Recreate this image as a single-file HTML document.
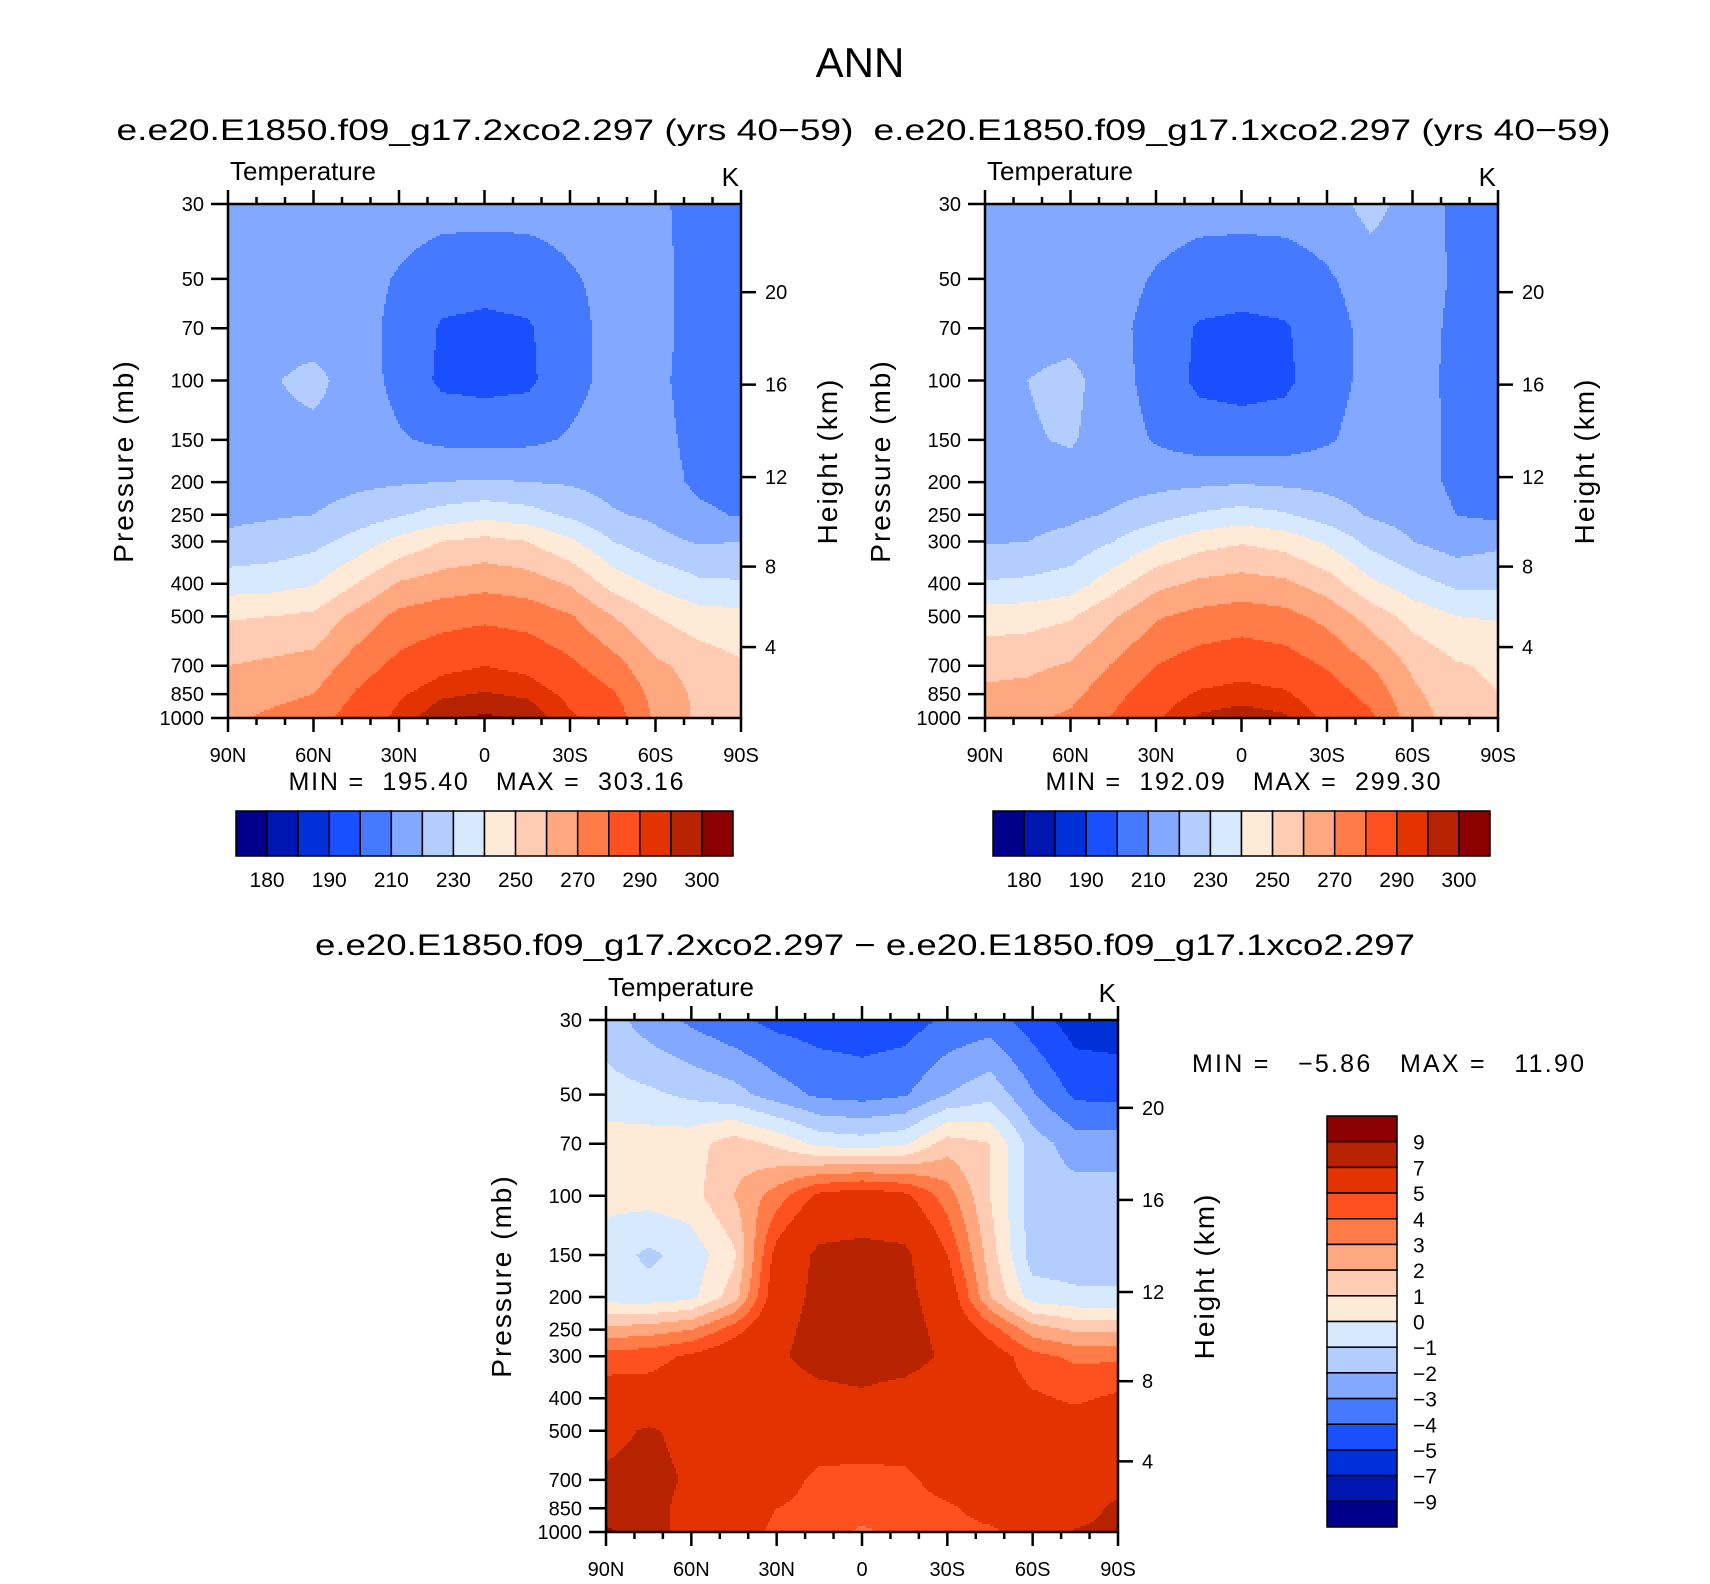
<!DOCTYPE html>
<html><head><meta charset="utf-8"><style>
html,body{margin:0;padding:0;background:#fff;}
svg text{font-family:"Liberation Sans",sans-serif;fill:#000;}
.pre{white-space:pre;}
</style></head><body>
<svg id="root" width="1710" height="1579" viewBox="0 0 1710 1579" xmlns="http://www.w3.org/2000/svg">
<rect width="1710" height="1579" fill="#fff"/>
<text x="860" y="77" font-size="42" text-anchor="middle">ANN</text>
<text x="485" y="140" font-size="30" text-anchor="middle" textLength="737" lengthAdjust="spacingAndGlyphs">e.e20.E1850.f09_g17.2xco2.297 (yrs 40−59)</text>
<text x="1242" y="140" font-size="30" text-anchor="middle" textLength="737" lengthAdjust="spacingAndGlyphs">e.e20.E1850.f09_g17.1xco2.297 (yrs 40−59)</text>
<text x="865" y="955" font-size="30" text-anchor="middle" textLength="1100" lengthAdjust="spacingAndGlyphs">e.e20.E1850.f09_g17.2xco2.297 − e.e20.E1850.f09_g17.1xco2.297</text>
</svg>
<script>
// ---- data ----
const lats = [90,75,60,45,30,15,0,-15,-30,-45,-60,-75,-90];
const pressures = [30,50,70,100,150,200,250,300,400,500,700,850,1000];
const panel1Temp = [
 [215,215,215,215,215,214,214,214,214,213,212,206,200],
 [216,216,215,214,209,204,203,204,209,213,213,206,203],
 [216,216,215,214,207,199,198,199,206,214,213,206,204],
 [217,219,223,215,207,198,197,198,207,213,212,206,205],
 [217,217,217,216,211,208,207,208,211,214,213,207,205],
 [216,216,216,218,219,220,221,220,219,216,214,208,206],
 [218,219,220,224,229,234,237,234,228,221,218,212,209],
 [222,224,227,234,243,250,253,250,242,230,223,219,220],
 [235,236,239,250,261,265,267,265,259,246,238,232,231],
 [249,250,252,263,273,276,278,276,271,260,250,244,243],
 [260,262,264,275,283,288,290,288,282,274,262,256,251],
 [265,267,270,281,289,294,295.5,294,288,281,266,258,253],
 [268,272,276,285,292,299,301,299,291,286,268,258,254]
];
const panel2Temp = [
 [215,216,217,220,215,214,214,214,215,224,215,208,205],
 [216,216,216,214,209,205,204,205,209,214,214,209,205],
 [216,216,216,213,206,199,198,199,206,213,214,208,206],
 [217,220,223,214,206,198,197,198,206,213,213,208,206],
 [217,219,221,215,209,205,204,205,209,214,214,208,206],
 [216,216,216,216,217,218,219,218,217,215,214,208,207],
 [217,217,218,221,226,231,234,231,225,219,216,210,208],
 [219,220,223,230,239,246,249,246,238,227,220,215,218],
 [231,232,235,246,257,262,264,262,255,242,234,228,228],
 [245,246,249,259,269,273,275,273,267,256,246,240,239],
 [257,258,261,271,280,285,287,285,279,270,258,251,248],
 [262,263,267,277,286,291,292.5,291,285,277,262,254,250],
 [265,268,272,281,289,296,298,296,288,282,265,255,251]
];
const diffTemp = [
 [-1.5,-2.5,-3.2,-3.8,-4.3,-4.5,-4.6,-4.5,-3.8,-3.5,-4.5,-5.5,-5.6],
 [-0.6,-0.8,-1.2,-1.6,-2.5,-3.2,-3.4,-3.1,-2.0,-1.3,-2.9,-4.2,-4.3],
 [0.5,0.5,0.6,1.5,0.8,-0.3,-0.5,-0.2,1.5,1.0,-1.5,-2.5,-2.5],
 [0.3,0.4,0.6,2.0,3.5,5.3,5.8,5.3,3.5,1.0,-1.5,-1.6,-1.6],
 [-0.5,-1.2,-0.6,0.8,5.5,7.4,7.5,7.4,5.0,1.5,-1.5,-1.5,-1.5],
 [-0.5,-0.6,-0.3,1.5,6.0,7.5,7.6,7.5,6.0,2.0,-0.5,-0.8,-0.8],
 [2.3,2.5,3.0,4.5,6.5,7.6,7.7,7.6,6.5,4.5,2.5,1.8,1.8],
 [4.5,4.6,5.2,6.0,6.8,7.5,7.6,7.5,6.8,5.8,4.3,3.8,3.8],
 [5.6,5.6,5.8,6.0,6.3,6.6,6.8,6.5,6.2,5.8,5.2,4.8,5.2],
 [6.5,7.2,6.5,6.0,5.8,5.8,5.8,5.8,5.8,5.8,5.8,5.8,5.8],
 [7.3,7.5,6.8,5.8,5.6,4.7,4.6,4.7,5.6,5.8,5.8,5.8,6.0],
 [7.5,7.5,6.5,5.5,5.0,4.6,4.5,4.5,4.8,5.5,5.5,6.0,7.5],
 [9.5,7.5,6.5,5.5,4.8,4.6,3.8,4.4,4.6,4.8,5.5,7.2,7.5]
];
const absLevels = [180,185,190,200,210,220,230,240,250,260,270,280,290,295,300];
const absLabels = ["180","190","210","230","250","270","290","300"];
const diffLevels = [-9,-7,-5,-4,-3,-2,-1,0,1,2,3,4,5,7,9];
const diffLabels = ["−9","−7","−5","−4","−3","−2","−1","0","1","2","3","4","5","7","9"];
const palette = ["#00008a","#0016b0","#0030d8","#1a4fff","#4579ff","#82a8ff","#b3cdff","#d7e9ff","#ffe9d7","#ffcbb2","#ffa880","#ff7c48","#ff5120","#e33300","#b72200","#8b0000"];
const pTicks = [30,50,70,100,150,200,250,300,400,500,700,850,1000];
const kmTicks = [4,8,12,16,20];
const latTickLabels = ["90N","60N","30N","0","30S","60S","90S"];

const NS="http://www.w3.org/2000/svg";
const root=document.getElementById('root');
function mk(tag,attrs,parent,txt){const e=document.createElementNS(NS,tag);for(const k in attrs)e.setAttribute(k,attrs[k]);if(txt!==undefined)e.textContent=txt;(parent||root).appendChild(e);return e;}

const lp0=Math.log(30), lp1=Math.log(1000);
function pFrac(p){return (Math.log(p)-lp0)/(lp1-lp0);}
function kmToP(z){const m=z*1000;if(m<=11000)return 1013.25*Math.pow(1-2.25577e-5*m,5.25588);return 226.32*Math.exp(-(m-11000)/6341.6);}
function levelIndex(v,levels){let i=0;while(i<levels.length&&v>=levels[i])i++;return i;}
function sample(grid,xf,yf){
  const fx=xf*(lats.length-1);let i=Math.min(lats.length-2,Math.floor(fx));const tx=fx-i;
  const lp=lp0+yf*(lp1-lp0);let j=0;while(j<pressures.length-2&&Math.log(pressures[j+1])<lp)j++;
  const a=Math.log(pressures[j]),b=Math.log(pressures[j+1]);let ty=(lp-a)/(b-a);ty=Math.max(0,Math.min(1,ty));
  const v00=grid[j][i],v01=grid[j][i+1],v10=grid[j+1][i],v11=grid[j+1][i+1];
  return (v00*(1-tx)+v01*tx)*(1-ty)+(v10*(1-tx)+v11*tx)*ty;
}

function panel(id,x0,y0,w,h,grid,levels){
  const g=mk('g',{},root);
  
  
  const cs=2,nx=Math.ceil(w/cs),ny=Math.ceil(h/cs);
  for(let r=0;r<ny;r++){
    let start=0,cur=-1;
    const yy=y0+r*cs,hh=Math.min(cs,h-r*cs);
    for(let c=0;c<=nx;c++){
      let li=-2;
      if(c<nx){li=levelIndex(sample(grid,(c+0.5)/nx,(r+0.5)/ny),levels);}
      if(li!==cur){
        if(cur>=0){
          const rc=mk('rect',{x:x0+start*cs,y:yy,width:Math.min((c-start)*cs,w-start*cs)+0.5,height:hh+0.5,fill:palette[cur]},g);
          
          
        }
        start=c;cur=li;
      }
    }
  }
  const ax=mk('g',{stroke:'#000','stroke-width':2.5,fill:'none'},root);
  
  
  mk('rect',{x:x0,y:y0,width:w,height:h},ax);
  for(let lat=90;lat>=-90;lat-=10){
    const x=x0+(90-lat)/180*w;const L=(lat%30===0)?14:7;
    mk('line',{x1:x,y1:y0,x2:x,y2:y0-L},ax);
    mk('line',{x1:x,y1:y0+h,x2:x,y2:y0+h+L},ax);
  }
  latTickLabels.forEach((t,k)=>{
    const tx=mk('text',{x:x0+k*w/6,y:y0+h+44,'font-size':20,'text-anchor':'middle'},root,t);
    
    
  });
  pTicks.forEach(p=>{
    const y=y0+pFrac(p)*h;
    mk('line',{x1:x0,y1:y,x2:x0-17,y2:y},ax);
    const tx=mk('text',{x:x0-24,y:y+7,'font-size':20,'text-anchor':'end'},root,String(p));
    
    
  });
  kmTicks.forEach(z=>{
    const y=y0+pFrac(kmToP(z))*h;
    mk('line',{x1:x0+w,y1:y,x2:x0+w+15,y2:y},ax);
    const tx=mk('text',{x:x0+w+24,y:y+7,'font-size':20},root,String(z));
    
    
  });
  const t1=mk('text',{x:x0+2,y:y0-24,'font-size':26},root,'Temperature');
  
  
  const t2=mk('text',{x:x0+w-2,y:y0-18,'font-size':26,'text-anchor':'end'},root,'K');
  
  
  const cy=y0+h/2;
  const yl=mk('text',{x:0,y:0,'font-size':28,'text-anchor':'middle','letter-spacing':'2',transform:`translate(${x0-95},${cy}) rotate(-90)`},root,'Pressure (mb)');
  
  
  const yr=mk('text',{x:0,y:0,'font-size':28,'text-anchor':'middle','letter-spacing':'2',transform:`translate(${x0+w+96},${cy}) rotate(-90)`},root,'Height (km)');
  
  
}

function hbar(id,x0,y0,w,h,labels){
  const bw=w/16;
  for(let i=0;i<16;i++){
    const r=mk('rect',{x:x0+i*bw,y:y0,width:bw,height:h,fill:palette[i],stroke:'#000','stroke-width':1.5});
    
    
  }
  labels.forEach((t,k)=>{
    const tx=mk('text',{x:x0+(1+2*k)*bw,y:y0+h+31,'font-size':21,'text-anchor':'middle'},root,t);
    
    
  });
}
function vbar(id,x0,y0,w,h,labels){
  const bh=h/16;
  for(let i=0;i<16;i++){
    const r=mk('rect',{x:x0,y:y0+i*bh,width:w,height:bh,fill:palette[15-i],stroke:'#000','stroke-width':1.5});
    
    
  }
  for(let k=0;k<labels.length;k++){
    const t=labels[labels.length-1-k];
    const tx=mk('text',{x:x0+w+16,y:y0+(k+1)*bh+8,'font-size':21},root,t);
    
    
  }
}

panel('panel1',228,204,513,514,panel1Temp,absLevels);
panel('panel2',985,204,513,514,panel2Temp,absLevels);
panel('panel3',606,1020,512,512,diffTemp,diffLevels);
hbar('colorbar1',236,811,497,45,absLabels);
hbar('colorbar2',993,811,497,45,absLabels);
vbar('colorbar3',1327,1116,70,411,diffLabels);

const m1=mk('text',{x:486,y:790,'font-size':25,'text-anchor':'middle','class':'pre',textLength:395,lengthAdjust:'spacing'},root,'MIN =  195.40   MAX =  303.16');


const m2=mk('text',{x:1243,y:790,'font-size':25,'text-anchor':'middle','class':'pre',textLength:395,lengthAdjust:'spacing'},root,'MIN =  192.09   MAX =  299.30');


const m3=mk('text',{x:1388,y:1072,'font-size':25,'text-anchor':'middle','class':'pre',textLength:392,lengthAdjust:'spacing'},root,'MIN =   −5.86   MAX =   11.90');


</script>
</body></html>
